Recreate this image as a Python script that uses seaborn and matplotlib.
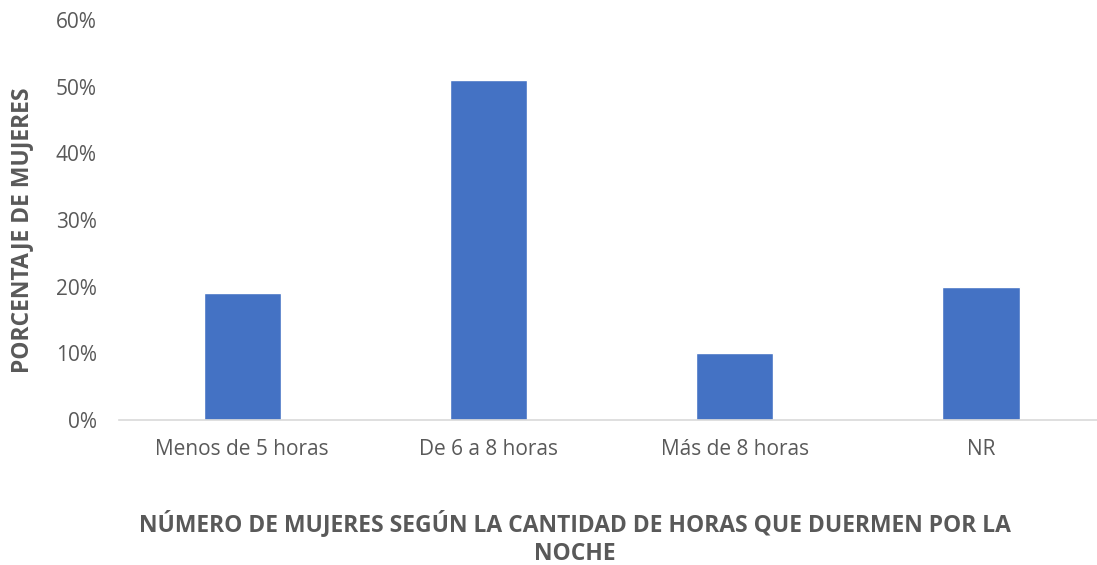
import numpy as np
import pandas as pd
import matplotlib
matplotlib.use("Agg")
import matplotlib.pyplot as plt
import seaborn as sns
from matplotlib.ticker import PercentFormatter

categories = ["Menos de 5 horas", "De 6 a 8 horas", "Más de 8 horas", "NR"]
porcentajes = [0.19, 0.51, 0.10, 0.20]
yticks = [0, 0.1, 0.2, 0.3, 0.4, 0.5, 0.6]

sns.set_theme(style="white")
plt.rcParams["font.family"] = ["Open Sans", "DejaVu Sans"]

df = pd.DataFrame({"categoria": categories, "porcentaje": porcentajes})

fig = plt.figure(figsize=(10.97, 5.65), dpi=100)
ax = fig.add_axes([0.1085, 0.2566, 0.898, 0.708])

sns.barplot(data=df, x="categoria", y="porcentaje", color="#4472C4",
            width=0.313, saturation=1, ax=ax)

ax.set_xlim(-0.5, 3.5)
ax.set_ylim(0, 0.6)
ax.set_yticks(yticks)
ax.yaxis.set_major_formatter(PercentFormatter(1.0, decimals=0))

for side in ["top", "right", "left"]:
    ax.spines[side].set_visible(False)
ax.spines["bottom"].set_color("#D9D9D9")
ax.spines["bottom"].set_linewidth(1.2)

ax.tick_params(axis="both", length=0, labelsize=15, colors="#595959")
ax.tick_params(axis="x", pad=14)
ax.tick_params(axis="y", pad=16)

ax.set_xlabel("NÚMERO DE MUJERES SEGÚN LA CANTIDAD DE HORAS QUE DUERMEN POR LA\nNOCHE",
              fontsize=16.5, fontweight="bold", color="#595959", linespacing=1.3)
ax.xaxis.set_label_coords(0.463, -0.225)

ax.set_ylabel("PORCENTAJE DE MUJERES", fontsize=16.5, fontweight="bold",
              color="#595959")
ax.yaxis.label.set_va("center")
ax.yaxis.set_label_coords(-0.0985, 0.475)

fig.savefig("out.png", dpi=100)
